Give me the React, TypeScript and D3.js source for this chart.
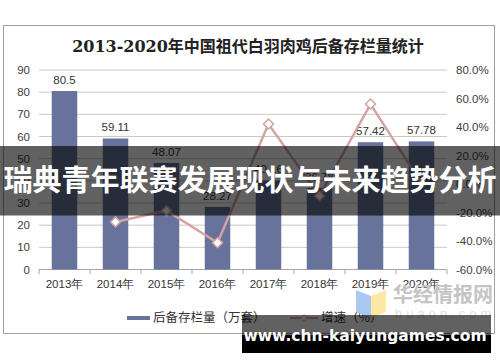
import * as d3 from 'd3'

const years = ['2013年', '2014年', '2015年', '2016年', '2017年', '2018年', '2019年', '2020年']
const stock = [80.5, 59.11, 48.07, 28.27, 40.16, 36.78, 57.42, 57.78]
const growth = [null, -26.6, -18.7, -41.2, 42.1, -8.4, 56.1, 0.6]
const leftTicks = [0, 10, 20, 30, 40, 50, 60, 70, 80, 90]
const rightTicks = [-60, -40, -20, 0, 20, 40, 60, 80]

const W = 500
const H = 362
const font = '"Liberation Sans", Arial, sans-serif'
const cjk = '"Noto Sans CJK SC", sans-serif'

const App = () => {
  const x = d3.scaleBand<string>().domain(years).range([39, 447]).paddingInner(0.5).paddingOuter(0.25)
  const yL = d3.scaleLinear().domain([0, 90]).range([269.5, 70])
  const yR = d3.scaleLinear().domain([-60, 80]).range([269.5, 70])

  const pts = years
    .map((yr, i) => ({ yr, v: growth[i] }))
    .filter((d) => d.v !== null) as { yr: string; v: number }[]
  const line = d3
    .line<{ yr: string; v: number }>()
    .x((d) => x(d.yr)! + x.bandwidth() / 2)
    .y((d) => yR(d.v))

  const step = x.step()
  const x0 = 39
  const lineColor = '#d4a3a2'
  const barColor = '#67739b'

  return (
    <div style={{ position: 'absolute', left: 0, top: 0 }}>
      <svg width={W} height={H} style={{ display: 'block' }}>
        <rect width={W} height={H} fill="#fff" />
        <rect x={3.5} y={25.5} width={491} height={308} fill="#fff" stroke="#a0a0a0" />
        <text x={248} y={52} textAnchor="middle" fontFamily={`"DejaVu Serif", "Noto Sans CJK SC", serif`} fontWeight="bold" fontSize={16} fill="#222">
          2013-2020年中国祖代白羽肉鸡后备存栏量统计
        </text>

        {leftTicks.map((t) => (
          <g key={'l' + t}>
            <line x1={x0} x2={447} y1={yL(t)} y2={yL(t)} stroke={t === 0 ? '#a6a6a6' : '#c8c8c8'} />
            <text x={30} y={yL(t) + 4} textAnchor="end" fontFamily={font} fontSize={11.5} fill="#404040">
              {t}
            </text>
          </g>
        ))}
        {rightTicks.map((t) => (
          <text key={'r' + t} x={456} y={yR(t) + 4} fontFamily={font} fontSize={11.5} fill="#404040">
            {t.toFixed(1)}%
          </text>
        ))}
        {d3.range(years.length + 1).map((i) => (
          <line key={'t' + i} x1={x0 + i * step} x2={x0 + i * step} y1={269.5} y2={274} stroke="#a6a6a6" />
        ))}

        {years.map((yr, i) => (
          <g key={yr}>
            <rect x={x(yr)} y={yL(stock[i])} width={x.bandwidth()} height={yL(0) - yL(stock[i])} fill={barColor} />
            <text x={x(yr)! + x.bandwidth() / 2} y={yL(stock[i]) - 7} textAnchor="middle" fontFamily={font} fontSize={11.5} fill="#333">
              {stock[i]}
            </text>
            <text x={x(yr)! + x.bandwidth() / 2} y={288} textAnchor="middle" fontFamily={font} fontSize={11.5} fill="#333">
              {yr}
            </text>
          </g>
        ))}

        <path d={line(pts)!} fill="none" stroke={lineColor} strokeWidth={2.5} />
        {pts.map((d) => {
          const cx = x(d.yr)! + x.bandwidth() / 2
          const cy = yR(d.v)
          return (
            <path key={d.yr} d={`M${cx},${cy - 5}L${cx + 5},${cy}L${cx},${cy + 5}L${cx - 5},${cy}Z`} fill="#fff" stroke={lineColor} strokeWidth={1.5} />
          )
        })}

        {/* legend */}
        <rect x={127} y={316} width={23} height={4} fill={barColor} />
        <text x={153} y={322} fontFamily={cjk} fontSize={12.5} fill="#333">
          后备存栏量（万套）
        </text>
        <line x1={290} x2={318} y1={318} y2={318} stroke={lineColor} strokeWidth={2} />
        <path d="M304,314.5L307.5,318L304,321.5L300.5,318Z" fill="#fff" stroke={lineColor} />
        <text x={321} y={322} fontFamily={cjk} fontSize={12.5} fill="#333">
          增速（%）
        </text>

        {/* watermark logo */}
        <path d="M356,290L371,296L371,318L356,312Z" fill="#a9c9f2" />
        <path d="M371,296L386,290L386,312L371,318Z" fill="#fde9a3" />
        <text x={393} y={302} fontFamily={cjk} fontWeight="bold" fontSize={20} fill="#c4c4c4">
          华经情报网
        </text>
        <text x={395} y={318} fontFamily={font} fontSize={13} letterSpacing={4} fill="#e0e0e0">
          huaon.com
        </text>

        {/* overlay band */}
        <rect x={0} y={146} width={W} height={69.5} fill="#000" opacity={0.62} />
        <text x={250} y={191} textAnchor="middle" fontFamily={cjk} fontWeight="bold" fontSize={29} fill="#fff">
          瑞典青年联赛发展现状与未来趋势分析
        </text>

        <rect x={242} y={315} width={249} height={20} fill="#000" opacity={0.62} />
        <rect x={242} y={335} width={249} height={18} fill="#000" />
        <text x={365} y={341} textAnchor="middle" fontFamily={`"DejaVu Sans", sans-serif`} fontWeight="bold" fontSize={15.5} fill="#fff">
          www.chn-kaiyungames.com
        </text>
      </svg>
    </div>
  )
}

export default App
